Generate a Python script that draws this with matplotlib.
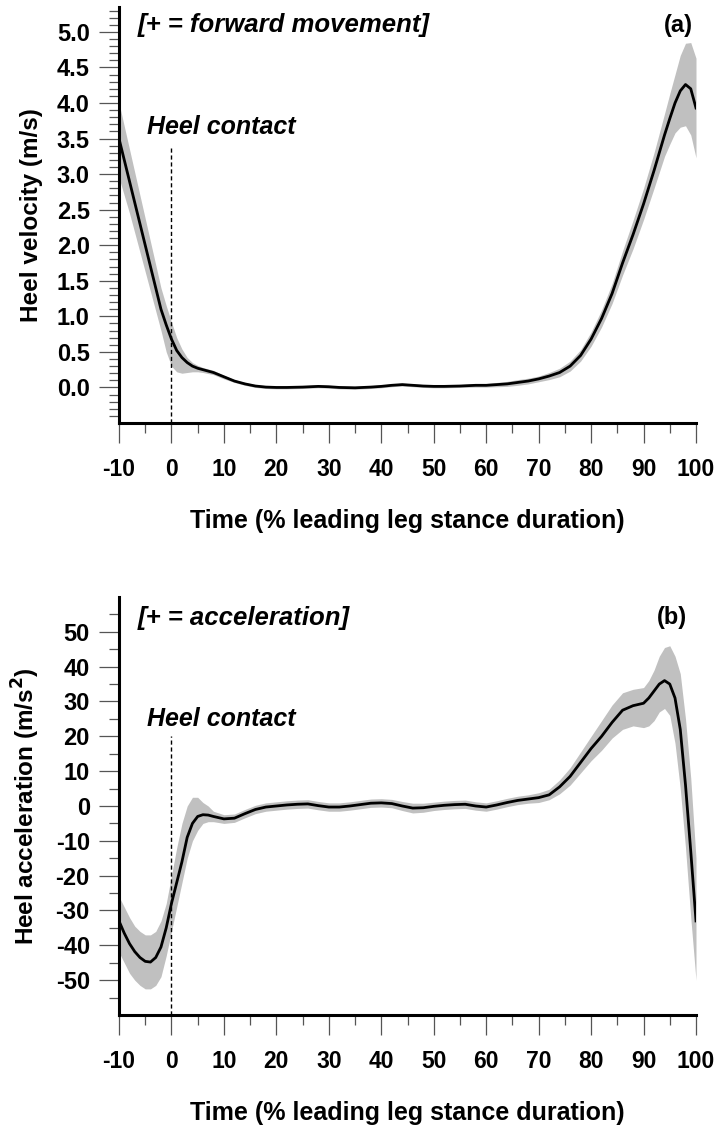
import numpy as np
import matplotlib
matplotlib.use("Agg")
import matplotlib.pyplot as plt
from matplotlib.ticker import FixedLocator

plt.rcParams['font.family'] = ['Liberation Sans', 'DejaVu Sans']
plt.rcParams['axes.unicode_minus'] = False

# (a) heel velocity, m/s
vel_time = [-10, -8, -6, -4, -2, -1, 0, 1, 2, 3, 4, 5, 6, 8, 10, 12, 14, 16, 18, 20,
            22, 25, 28, 30, 32, 35, 38, 40, 42, 44, 46, 48, 50, 52, 55, 58, 60, 62, 64,
            66, 68, 70, 72, 74, 76, 78, 80, 82, 84, 86, 88, 90, 92, 94, 95, 96, 97, 98,
            99, 100]
vel_mean = [3.50, 2.90, 2.30, 1.70, 1.10, 0.88, 0.68, 0.52, 0.42, 0.35, 0.30, 0.27, 0.25,
            0.21, 0.15, 0.09, 0.05, 0.02, 0.005, 0.0, 0.0, 0.005, 0.015, 0.01, 0.0, -0.005,
            0.005, 0.015, 0.03, 0.04, 0.03, 0.02, 0.015, 0.015, 0.02, 0.03, 0.03, 0.04, 0.05,
            0.07, 0.09, 0.12, 0.16, 0.21, 0.30, 0.45, 0.68, 0.97, 1.32, 1.75, 2.15, 2.58,
            3.05, 3.55, 3.78, 4.00, 4.17, 4.26, 4.20, 3.93]
vel_lo = [2.95, 2.45, 1.90, 1.35, 0.80, 0.50, 0.30, 0.22, 0.20, 0.21, 0.22, 0.22, 0.21,
          0.18, 0.12, 0.07, 0.03, 0.00, -0.015, -0.02, -0.02, -0.015, -0.005, -0.01, -0.02,
          -0.025, -0.015, -0.005, 0.01, 0.02, 0.01, 0.0, -0.005, -0.005, 0.0, 0.005, 0.005,
          0.01, 0.015, 0.03, 0.05, 0.08, 0.11, 0.15, 0.23, 0.37, 0.58, 0.85, 1.18, 1.58,
          1.95, 2.36, 2.80, 3.25, 3.42, 3.58, 3.66, 3.68, 3.55, 3.23]
vel_hi = [4.00, 3.35, 2.70, 2.05, 1.40, 1.15, 0.92, 0.70, 0.54, 0.42, 0.35, 0.31, 0.28,
          0.24, 0.17, 0.11, 0.07, 0.04, 0.025, 0.02, 0.02, 0.025, 0.035, 0.03, 0.02, 0.015,
          0.025, 0.035, 0.05, 0.06, 0.05, 0.04, 0.035, 0.035, 0.04, 0.055, 0.055, 0.07,
          0.085, 0.11, 0.13, 0.16, 0.21, 0.27, 0.37, 0.53, 0.78, 1.09, 1.46, 1.92, 2.35,
          2.80, 3.30, 3.85, 4.13, 4.40, 4.67, 4.84, 4.85, 4.63]

# (b) heel acceleration, m/s^2
acc_time = [-10, -9, -8, -7, -6, -5, -4, -3, -2, -1, 0, 1, 2, 3, 4, 5, 6, 7, 8, 10, 12,
            14, 16, 18, 20, 22, 24, 26, 28, 30, 32, 34, 36, 38, 40, 42, 44, 46, 48, 50,
            52, 54, 56, 58, 60, 62, 64, 66, 68, 70, 72, 74, 76, 78, 80, 82, 84, 86, 88,
            90, 91, 92, 93, 94, 95, 96, 97, 98, 99, 100]
acc_mean = [-33, -36.5, -39.5, -41.8, -43.5, -44.6, -44.8, -43.5, -40.5, -35, -28, -22,
            -16, -9, -5, -3, -2.5, -2.6, -3, -3.7, -3.5, -2.2, -1, -0.3, 0, 0.3, 0.5, 0.6,
            0.1, -0.3, -0.3, 0, 0.4, 0.8, 0.9, 0.7, 0, -0.6, -0.5, -0.1, 0.2, 0.4, 0.5, 0,
            -0.3, 0.3, 1.0, 1.6, 2.0, 2.4, 3.2, 5.5, 8.5, 12.5, 16.5, 20, 24, 27.5, 28.8,
            29.5, 31, 33, 35, 36, 35, 31, 22, 6, -13, -33]
acc_lo = [-42, -45, -48, -50, -51.5, -52.5, -52.5, -51.5, -49, -43, -36, -29, -22, -15,
          -10, -7, -5, -4.5, -4.5, -5, -4.7, -3.4, -2.2, -1.5, -1.2, -0.9, -0.7, -0.6,
          -1.1, -1.5, -1.5, -1.2, -0.8, -0.4, -0.3, -0.5, -1.3, -2.0, -1.8, -1.3, -1.0,
          -0.8, -0.7, -1.2, -1.5, -0.9, -0.2, 0.4, 0.8, 1.0, 1.8, 3.5, 6, 9.5, 13, 16,
          19.5, 22, 23, 22.5, 23, 24.5, 27, 28, 26, 18, 5, -12, -32, -50]
acc_hi = [-26, -29, -32, -34.5, -36, -37, -37, -36, -33, -28, -20, -12, -5, 0, 2.5, 2.5,
          1, 0, -1.5, -2.5, -2.3, -1.0, 0.2, 0.9, 1.2, 1.5, 1.7, 1.8, 1.3, 0.9, 0.9, 1.2,
          1.6, 2.0, 2.1, 1.9, 1.3, 0.8, 0.8, 1.1, 1.4, 1.6, 1.7, 1.2, 0.9, 1.5, 2.2, 2.8,
          3.2, 3.8, 4.8, 7.5, 11, 15.5, 20, 24.5, 29, 32.5, 33.5, 34, 36, 39, 43, 45.5, 46,
          43, 38, 25, 8, -15]

x_major = list(range(-10, 101, 10))
x_minor = list(range(-5, 100, 10))

BAND = '#c0c0c0'
W, H = 718, 1130
fig = plt.figure(figsize=(W / 100, H / 100), dpi=100)


def px_axes(left, top, right, bottom):
    return fig.add_axes([left / W, 1 - bottom / H, (right - left) / W, (bottom - top) / H])


def style_axes(ax):
    for s in ('top', 'right'):
        ax.spines[s].set_visible(False)
    for s in ('left', 'bottom'):
        ax.spines[s].set_linewidth(2.2)
    ax.set_xlim(-10, 100)
    ax.xaxis.set_major_locator(FixedLocator(x_major))
    ax.xaxis.set_minor_locator(FixedLocator(x_minor))
    ax.set_xticklabels([str(v) for v in x_major])
    ax.tick_params(which='major', direction='out', length=14.5, width=0.9,
                   color='#555555')
    ax.tick_params(which='minor', direction='out', length=7, width=0.9, color='#555555')
    ax.tick_params(axis='x', labelsize=16.5, pad=11)
    ax.tick_params(axis='y', labelsize=17, pad=6.5)
    for lab in ax.get_xticklabels() + ax.get_yticklabels():
        lab.set_fontweight('bold')
    ax.set_xlabel('Time (% leading leg stance duration)', fontsize=18,
                  fontweight='bold', labelpad=20)


# ---- panel (a)
ax1 = px_axes(119, 7, 696, 423)
ax1.fill_between(vel_time, vel_lo, vel_hi, color=BAND, lw=0)
ax1.plot(vel_time, vel_mean, color='black', lw=2)
ax1.vlines(0, -0.5, 3.4, colors='black', linestyles=(0, (3, 2)), lw=1)
ax1.set_ylim(-0.5, 5.35)
y_major = [round(v * 0.5, 1) for v in range(11)]
ax1.yaxis.set_major_locator(FixedLocator(y_major))
ax1.yaxis.set_minor_locator(FixedLocator([round(v * 0.1, 1) for v in range(-4, 54)]))
ax1.set_yticklabels(['%.1f' % v for v in y_major])
style_axes(ax1)
ax1.set_ylabel('Heel velocity (m/s)', fontsize=17.5, fontweight='bold', labelpad=10)
ax1.text(-6.4, 5.09, '[+ = forward movement]', fontsize=18.5, fontweight='bold',
         style='italic', va='center')
ax1.text(96.6, 5.09, '(a)', fontsize=17, fontweight='bold', ha='center', va='center')
ax1.text(-4.7, 3.66, 'Heel contact', fontsize=18, fontweight='bold', style='italic',
         va='center')

# ---- panel (b)
ax2 = px_axes(119, 597, 696, 1015)
ax2.fill_between(acc_time, acc_lo, acc_hi, color=BAND, lw=0)
ax2.plot(acc_time, acc_mean, color='black', lw=2)
ax2.vlines(0, -60, 20, colors='black', linestyles=(0, (3, 2)), lw=1)
ax2.set_ylim(-60, 60)
a_major = list(range(-50, 51, 10))
ax2.yaxis.set_major_locator(FixedLocator(a_major))
ax2.yaxis.set_minor_locator(FixedLocator(list(range(-55, 60, 10))))
ax2.set_yticklabels([str(v) for v in a_major])
style_axes(ax2)
ax2.set_ylabel('Heel acceleration (m/s$^\\mathbf{2}$)', fontsize=17.5,
               fontweight='bold', labelpad=10)
ax2.text(-6.4, 54, '[+ = acceleration]', fontsize=18.5, fontweight='bold',
         style='italic', va='center')
ax2.text(95.4, 54, '(b)', fontsize=17, fontweight='bold', ha='center', va='center')
ax2.text(-4.7, 25.1, 'Heel contact', fontsize=18, fontweight='bold', style='italic',
         va='center')

fig.savefig('out.png', dpi=100)
